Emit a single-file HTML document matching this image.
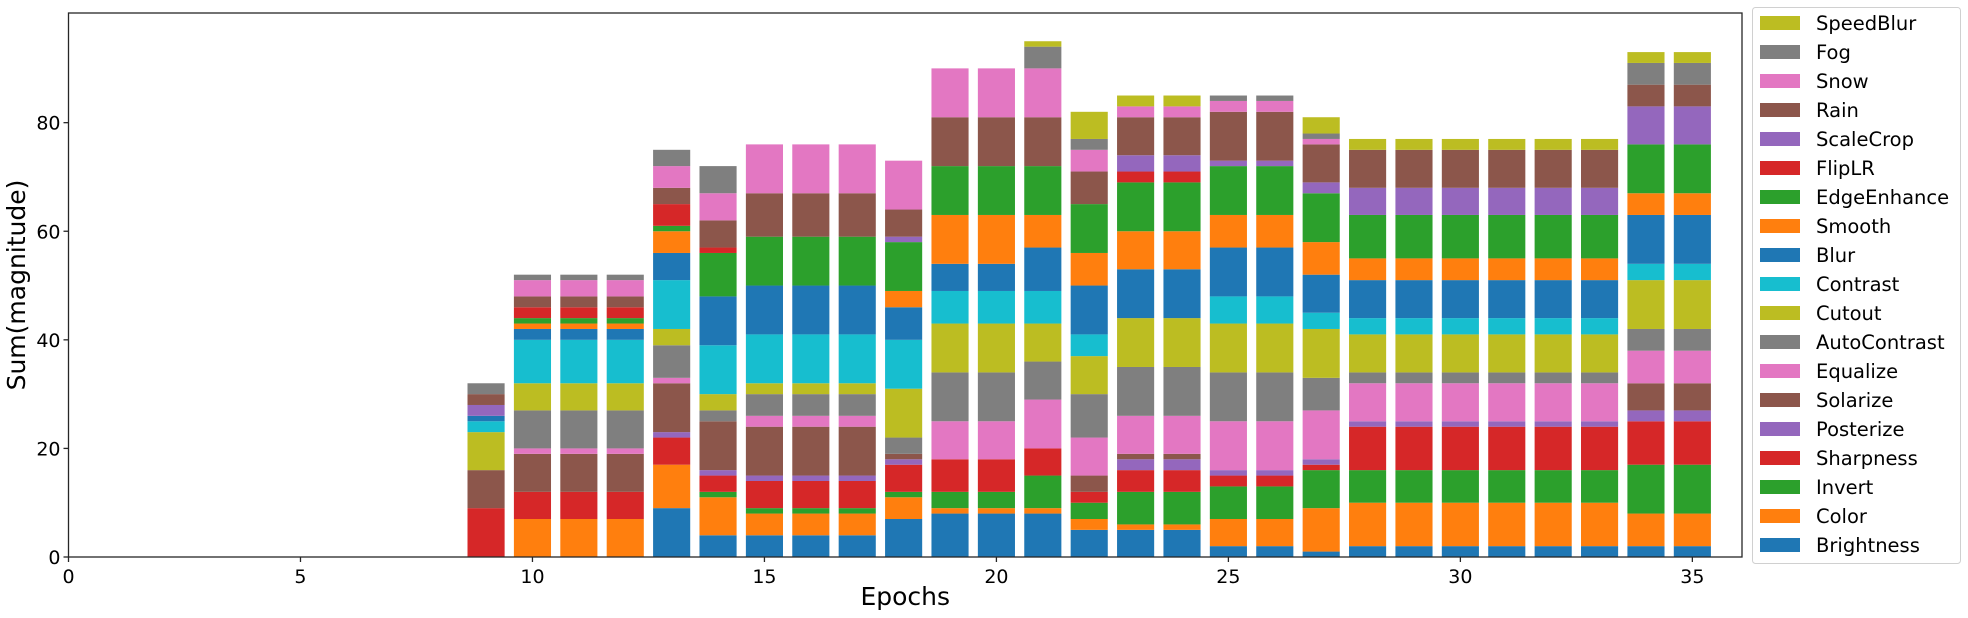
<!DOCTYPE html>
<html>
<head>
<meta charset="utf-8">
<style>
html,body{margin:0;padding:0;background:#fff;}
svg{display:block;font-family:"DejaVu Sans","Liberation Sans",sans-serif;}
</style>
</head>
<body>
<svg id="chart" width="1968" height="618" viewBox="0 0 1968 618" xmlns="http://www.w3.org/2000/svg">
  <g id="bars"></g>
  <g id="axes"></g>
  <g id="legend"></g>
</svg>
<script>
const epochs = [9,10,11,12,13,14,15,16,17,18,19,20,21,22,23,24,25,26,27,28,29,30,31,32,33,34,35];
const seriesNames = ["Brightness","Color","Invert","Sharpness","Posterize","Solarize","Equalize","AutoContrast","Cutout","Contrast","Blur","Smooth","EdgeEnhance","FlipLR","ScaleCrop","Rain","Snow","Fog","SpeedBlur"];
const seriesColors = ["#1f77b4","#ff7f0e","#2ca02c","#d62728","#9467bd","#8c564b","#e377c2","#7f7f7f","#bcbd22","#17becf","#1f77b4","#ff7f0e","#2ca02c","#d62728","#9467bd","#8c564b","#e377c2","#7f7f7f","#bcbd22"];
const brightness   = [0,0,0,0,9,4,4,4,4,7,8,8,8,5,5,5,2,2,1,2,2,2,2,2,2,2,2];
const color        = [0,7,7,7,8,7,4,4,4,4,1,1,1,2,1,1,5,5,8,8,8,8,8,8,8,6,6];
const invert       = [0,0,0,0,0,1,1,1,1,1,3,3,6,3,6,6,6,6,7,6,6,6,6,6,6,9,9];
const sharpness    = [9,5,5,5,5,3,5,5,5,5,6,6,5,2,4,4,2,2,1,8,8,8,8,8,8,8,8];
const posterize    = [0,0,0,0,1,1,1,1,1,1,0,0,0,0,2,2,1,1,1,1,1,1,1,1,1,2,2];
const solarize     = [7,7,7,7,9,9,9,9,9,1,0,0,0,3,1,1,0,0,0,0,0,0,0,0,0,5,5];
const equalize     = [0,1,1,1,1,0,2,2,2,0,7,7,9,7,7,7,9,9,9,7,7,7,7,7,7,6,6];
const autoContrast = [0,7,7,7,6,2,4,4,4,3,9,9,7,8,9,9,9,9,6,2,2,2,2,2,2,4,4];
const cutout       = [7,5,5,5,3,3,2,2,2,9,9,9,7,7,9,9,9,9,9,7,7,7,7,7,7,9,9];
const contrast     = [2,8,8,8,9,9,9,9,9,9,6,6,6,4,0,0,5,5,3,3,3,3,3,3,3,3,3];
const blur         = [1,2,2,2,5,9,9,9,9,6,5,5,8,9,9,9,9,9,7,7,7,7,7,7,7,9,9];
const smooth       = [0,1,1,1,4,0,0,0,0,3,9,9,6,6,7,7,6,6,6,4,4,4,4,4,4,4,4];
const edgeEnhance  = [0,1,1,1,1,8,9,9,9,9,9,9,9,9,9,9,9,9,9,8,8,8,8,8,8,9,9];
const flipLR       = [0,2,2,2,4,1,0,0,0,0,0,0,0,0,2,2,0,0,0,0,0,0,0,0,0,0,0];
const scaleCrop    = [2,0,0,0,0,0,0,0,0,1,0,0,0,0,3,3,1,1,2,5,5,5,5,5,5,7,7];
const rain         = [2,2,2,2,3,5,8,8,8,5,9,9,9,6,7,7,9,9,7,7,7,7,7,7,7,4,4];
const snow         = [0,3,3,3,4,5,9,9,9,9,9,9,9,4,2,2,2,2,1,0,0,0,0,0,0,0,0];
const fog          = [2,1,1,1,3,5,0,0,0,0,0,0,4,2,0,0,1,1,1,0,0,0,0,0,0,4,4];
const speedBlur    = [0,0,0,0,0,0,0,0,0,0,0,0,1,5,2,2,0,0,3,2,2,2,2,2,2,2,2];
const xTicks = [0,5,10,15,20,25,30,35];
const yTicks = [0,20,40,60,80];

const seriesValues = [brightness,color,invert,sharpness,posterize,solarize,equalize,autoContrast,cutout,contrast,blur,smooth,edgeEnhance,flipLR,scaleCrop,rain,snow,fog,speedBlur];

const NS = "http://www.w3.org/2000/svg";
const L = 68.5, R = 1742, T = 13, B = 557;
const xMax = 36.07, yMax = 100.2;
function xScale(v){ return L + v/xMax*(R-L); }
function yScale(v){ return B - v/yMax*(B-T); }
const barW = 0.8*(xScale(1)-xScale(0));

function mk(tag, attrs, parent){
  const e = document.createElementNS(NS, tag);
  for (const k in attrs) e.setAttribute(k, attrs[k]);
  parent.appendChild(e);
  return e;
}

const gBars = document.getElementById('bars');
epochs.forEach((ep, i) => {
  let base = 0;
  seriesValues.forEach((arr, s) => {
    const v = arr[i];
    if (v > 0) {
      const r = mk('rect', {x: xScale(ep)-barW/2, y: yScale(base+v), width: barW, height: yScale(base)-yScale(base+v), fill: seriesColors[s]}, gBars);
      
      
    }
    base += v;
  });
});

const gAx = document.getElementById('axes');
const frame = mk('rect', {x: L, y: T, width: R-L, height: B-T, fill: 'none', stroke: '#262626', 'stroke-width': 1.3}, gAx);



xTicks.forEach(t => {
  const x = xScale(t);
  const tk = mk('line', {x1: x, x2: x, y1: B, y2: B+5, stroke: '#262626', 'stroke-width': 1.3}, gAx);
  
  
  const tx = mk('text', {x: x, y: B+26, 'text-anchor': 'middle', 'font-size': 19, fill: '#000'}, gAx);
  tx.textContent = t;
  
  
});
yTicks.forEach(t => {
  const y = yScale(t);
  const tk = mk('line', {x1: L-5, x2: L, y1: y, y2: y, stroke: '#262626', 'stroke-width': 1.3}, gAx);
  
  
  const tx = mk('text', {x: L-8, y: y+7, 'text-anchor': 'end', 'font-size': 19, fill: '#000'}, gAx);
  tx.textContent = t;
  
  
});
const xl = mk('text', {x: (L+R)/2, y: 605, 'text-anchor': 'middle', 'font-size': 25, fill: '#000'}, gAx);
xl.textContent = 'Epochs';


const yl = mk('text', {x: 0, y: 0, 'text-anchor': 'middle', 'font-size': 25, fill: '#000', transform: 'translate(25,' + ((T+B)/2) + ') rotate(-90)'}, gAx);
yl.textContent = 'Sum(magnitude)';



const gLeg = document.getElementById('legend');
const box = mk('rect', {x: 1752.5, y: 7.5, width: 208, height: 556, rx: 3, fill: '#fff', stroke: '#d0d0d0', 'stroke-width': 1}, gLeg);


for (let k = 0; k < seriesNames.length; k++) {
  const s = seriesNames.length - 1 - k;
  const cy = 23 + k*29;
  const g = mk('g', {}, gLeg);
  
  
  const sw = mk('rect', {x: 1760, y: cy-7, width: 40, height: 14, fill: seriesColors[s]}, g);
  
  
  const tx = mk('text', {x: 1816, y: cy+7, 'font-size': 19.5, fill: '#000'}, g);
  tx.textContent = seriesNames[s];
  
  
}
</script>
</body>
</html>
